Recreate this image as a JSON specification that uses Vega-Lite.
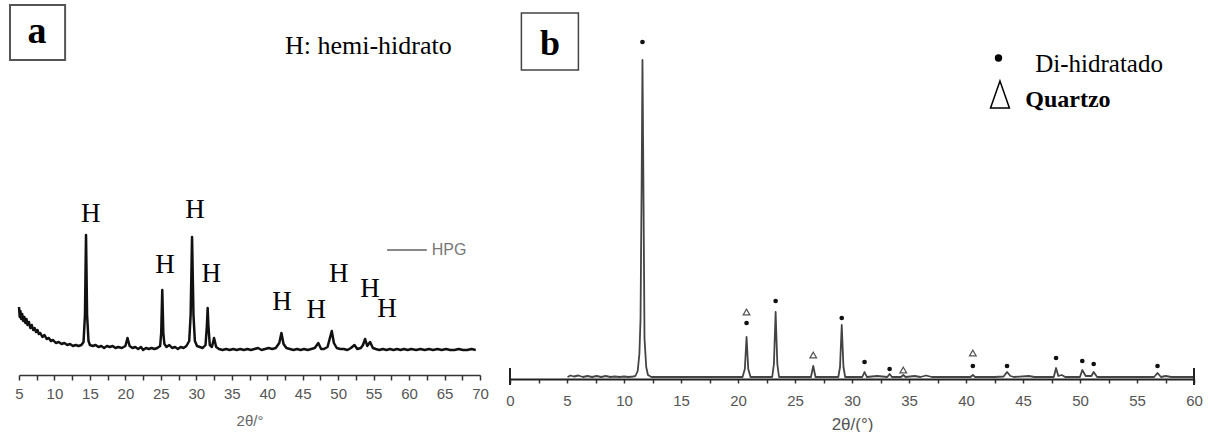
{
  "$schema": "https://vega.github.io/schema/vega-lite/v6.json",
  "background": "white",
  "padding": {"left": 8, "top": 0, "right": 0, "bottom": 0},
  "autosize": {"type": "pad"},
  "spacing": 30,
  "bounds": "flush",
  "config": {"view": {"stroke": null}},
  "datasets": {
    "a_trace": [
      {"two_theta": 5.0, "intensity": 68}, {"two_theta": 5.1, "intensity": 58}, {"two_theta": 5.2, "intensity": 64}, {"two_theta": 5.3, "intensity": 56},
      {"two_theta": 5.45, "intensity": 61}, {"two_theta": 5.6, "intensity": 54}, {"two_theta": 5.75, "intensity": 58}, {"two_theta": 5.9, "intensity": 52},
      {"two_theta": 6.05, "intensity": 56}, {"two_theta": 6.2, "intensity": 50}, {"two_theta": 6.4, "intensity": 53}, {"two_theta": 6.6, "intensity": 47},
      {"two_theta": 6.8, "intensity": 50}, {"two_theta": 7.0, "intensity": 45}, {"two_theta": 7.2, "intensity": 47}, {"two_theta": 7.4, "intensity": 43},
      {"two_theta": 7.6, "intensity": 45}, {"two_theta": 7.8, "intensity": 41}, {"two_theta": 8.0, "intensity": 42}, {"two_theta": 8.3, "intensity": 38},
      {"two_theta": 8.6, "intensity": 40}, {"two_theta": 8.9, "intensity": 36}, {"two_theta": 9.2, "intensity": 37}, {"two_theta": 9.5, "intensity": 34},
      {"two_theta": 9.8, "intensity": 35}, {"two_theta": 10.2, "intensity": 32}, {"two_theta": 10.6, "intensity": 33}, {"two_theta": 11.0, "intensity": 31},
      {"two_theta": 11.4, "intensity": 32}, {"two_theta": 11.8, "intensity": 30}, {"two_theta": 12.2, "intensity": 31}, {"two_theta": 12.6, "intensity": 29},
      {"two_theta": 13.0, "intensity": 30}, {"two_theta": 13.4, "intensity": 29}, {"two_theta": 13.8, "intensity": 30}, {"two_theta": 14.1, "intensity": 33},
      {"two_theta": 14.3, "intensity": 60}, {"two_theta": 14.45, "intensity": 140}, {"two_theta": 14.6, "intensity": 60}, {"two_theta": 14.8, "intensity": 34},
      {"two_theta": 15.0, "intensity": 30}, {"two_theta": 15.4, "intensity": 29}, {"two_theta": 15.8, "intensity": 30}, {"two_theta": 16.2, "intensity": 28},
      {"two_theta": 16.6, "intensity": 29}, {"two_theta": 17.0, "intensity": 27}, {"two_theta": 17.4, "intensity": 29}, {"two_theta": 17.8, "intensity": 28},
      {"two_theta": 18.2, "intensity": 29}, {"two_theta": 18.6, "intensity": 27}, {"two_theta": 19.0, "intensity": 28}, {"two_theta": 19.5, "intensity": 27},
      {"two_theta": 20.0, "intensity": 29}, {"two_theta": 20.3, "intensity": 37}, {"two_theta": 20.6, "intensity": 29}, {"two_theta": 21.0, "intensity": 27},
      {"two_theta": 21.4, "intensity": 28}, {"two_theta": 21.8, "intensity": 26}, {"two_theta": 22.2, "intensity": 28}, {"two_theta": 22.5, "intensity": 25},
      {"two_theta": 22.9, "intensity": 27}, {"two_theta": 23.3, "intensity": 26}, {"two_theta": 23.7, "intensity": 27}, {"two_theta": 24.1, "intensity": 26},
      {"two_theta": 24.5, "intensity": 27}, {"two_theta": 24.9, "intensity": 29}, {"two_theta": 25.05, "intensity": 42}, {"two_theta": 25.2, "intensity": 85},
      {"two_theta": 25.35, "intensity": 42}, {"two_theta": 25.5, "intensity": 31}, {"two_theta": 25.8, "intensity": 28}, {"two_theta": 26.2, "intensity": 30},
      {"two_theta": 26.6, "intensity": 27}, {"two_theta": 27.0, "intensity": 28}, {"two_theta": 27.4, "intensity": 26}, {"two_theta": 27.8, "intensity": 28},
      {"two_theta": 28.2, "intensity": 27}, {"two_theta": 28.6, "intensity": 29}, {"two_theta": 29.0, "intensity": 34}, {"two_theta": 29.2, "intensity": 60},
      {"two_theta": 29.4, "intensity": 138}, {"two_theta": 29.6, "intensity": 60}, {"two_theta": 29.8, "intensity": 34}, {"two_theta": 30.1, "intensity": 29},
      {"two_theta": 30.5, "intensity": 28}, {"two_theta": 30.9, "intensity": 27}, {"two_theta": 31.3, "intensity": 30}, {"two_theta": 31.5, "intensity": 50},
      {"two_theta": 31.6, "intensity": 67}, {"two_theta": 31.7, "intensity": 50}, {"two_theta": 31.9, "intensity": 30}, {"two_theta": 32.2, "intensity": 28},
      {"two_theta": 32.5, "intensity": 37}, {"two_theta": 32.8, "intensity": 28}, {"two_theta": 33.2, "intensity": 26}, {"two_theta": 33.7, "intensity": 25},
      {"two_theta": 34.2, "intensity": 26}, {"two_theta": 34.7, "intensity": 25}, {"two_theta": 35.2, "intensity": 26}, {"two_theta": 35.7, "intensity": 25},
      {"two_theta": 36.2, "intensity": 26}, {"two_theta": 36.7, "intensity": 25}, {"two_theta": 37.2, "intensity": 26}, {"two_theta": 37.7, "intensity": 25},
      {"two_theta": 38.2, "intensity": 26}, {"two_theta": 38.7, "intensity": 27}, {"two_theta": 39.2, "intensity": 25}, {"two_theta": 39.7, "intensity": 26},
      {"two_theta": 40.2, "intensity": 27}, {"two_theta": 40.7, "intensity": 26}, {"two_theta": 41.2, "intensity": 27}, {"two_theta": 41.7, "intensity": 32},
      {"two_theta": 42.0, "intensity": 42}, {"two_theta": 42.3, "intensity": 31}, {"two_theta": 42.7, "intensity": 27}, {"two_theta": 43.2, "intensity": 26},
      {"two_theta": 43.7, "intensity": 25}, {"two_theta": 44.2, "intensity": 26}, {"two_theta": 44.7, "intensity": 25}, {"two_theta": 45.2, "intensity": 26},
      {"two_theta": 45.7, "intensity": 25}, {"two_theta": 46.2, "intensity": 26}, {"two_theta": 46.7, "intensity": 27}, {"two_theta": 47.2, "intensity": 32},
      {"two_theta": 47.6, "intensity": 26}, {"two_theta": 48.0, "intensity": 26}, {"two_theta": 48.5, "intensity": 28}, {"two_theta": 48.8, "intensity": 36},
      {"two_theta": 49.1, "intensity": 44}, {"two_theta": 49.4, "intensity": 32}, {"two_theta": 49.8, "intensity": 27}, {"two_theta": 50.3, "intensity": 26},
      {"two_theta": 50.8, "intensity": 26}, {"two_theta": 51.3, "intensity": 25}, {"two_theta": 51.8, "intensity": 27}, {"two_theta": 52.3, "intensity": 30},
      {"two_theta": 52.7, "intensity": 26}, {"two_theta": 53.2, "intensity": 27}, {"two_theta": 53.5, "intensity": 30}, {"two_theta": 53.8, "intensity": 36},
      {"two_theta": 54.1, "intensity": 29}, {"two_theta": 54.5, "intensity": 33}, {"two_theta": 54.9, "intensity": 27}, {"two_theta": 55.3, "intensity": 26},
      {"two_theta": 55.8, "intensity": 25}, {"two_theta": 56.3, "intensity": 26}, {"two_theta": 56.8, "intensity": 25}, {"two_theta": 57.3, "intensity": 26},
      {"two_theta": 57.8, "intensity": 25}, {"two_theta": 58.3, "intensity": 26}, {"two_theta": 58.8, "intensity": 25}, {"two_theta": 59.3, "intensity": 26},
      {"two_theta": 59.8, "intensity": 25}, {"two_theta": 60.3, "intensity": 26}, {"two_theta": 61.0, "intensity": 25}, {"two_theta": 61.6, "intensity": 26},
      {"two_theta": 62.2, "intensity": 25}, {"two_theta": 62.8, "intensity": 26}, {"two_theta": 63.4, "intensity": 25}, {"two_theta": 64.0, "intensity": 26},
      {"two_theta": 64.6, "intensity": 25}, {"two_theta": 65.2, "intensity": 26}, {"two_theta": 65.8, "intensity": 25}, {"two_theta": 66.4, "intensity": 25},
      {"two_theta": 67.0, "intensity": 26}, {"two_theta": 67.6, "intensity": 25}, {"two_theta": 68.2, "intensity": 25}, {"two_theta": 68.8, "intensity": 26},
      {"two_theta": 69.4, "intensity": 25}
    ],
    "a_H": [
      {"two_theta": 15.1, "intensity": 153, "label": "H"},
      {"two_theta": 25.6, "intensity": 102, "label": "H"},
      {"two_theta": 29.8, "intensity": 157, "label": "H"},
      {"two_theta": 32.1, "intensity": 93, "label": "H"},
      {"two_theta": 42.1, "intensity": 65, "label": "H"},
      {"two_theta": 46.9, "intensity": 57, "label": "H"},
      {"two_theta": 50.1, "intensity": 93, "label": "H"},
      {"two_theta": 54.5, "intensity": 78, "label": "H"},
      {"two_theta": 56.9, "intensity": 58, "label": "H"}
    ],
    "b_trace": [
      {"two_theta": 5.05, "intensity": 2}, {"two_theta": 5.3, "intensity": 3.5}, {"two_theta": 5.6, "intensity": 2.5}, {"two_theta": 6.0, "intensity": 3.5},
      {"two_theta": 6.4, "intensity": 2}, {"two_theta": 6.8, "intensity": 3}, {"two_theta": 7.2, "intensity": 2}, {"two_theta": 7.6, "intensity": 3},
      {"two_theta": 8.0, "intensity": 2}, {"two_theta": 8.4, "intensity": 3}, {"two_theta": 8.8, "intensity": 2}, {"two_theta": 9.2, "intensity": 2.5},
      {"two_theta": 9.6, "intensity": 2}, {"two_theta": 10.0, "intensity": 2.5}, {"two_theta": 10.4, "intensity": 2}, {"two_theta": 10.8, "intensity": 2.5},
      {"two_theta": 11.0, "intensity": 3}, {"two_theta": 11.2, "intensity": 8}, {"two_theta": 11.35, "intensity": 25}, {"two_theta": 11.45, "intensity": 60},
      {"two_theta": 11.55, "intensity": 200}, {"two_theta": 11.62, "intensity": 319}, {"two_theta": 11.7, "intensity": 200}, {"two_theta": 11.8, "intensity": 40},
      {"two_theta": 11.95, "intensity": 12}, {"two_theta": 12.1, "intensity": 4}, {"two_theta": 12.4, "intensity": 2}, {"two_theta": 13.5, "intensity": 2},
      {"two_theta": 15.0, "intensity": 2}, {"two_theta": 17.0, "intensity": 2}, {"two_theta": 19.0, "intensity": 2}, {"two_theta": 20.4, "intensity": 2},
      {"two_theta": 20.6, "intensity": 10}, {"two_theta": 20.75, "intensity": 42}, {"two_theta": 20.9, "intensity": 10}, {"two_theta": 21.1, "intensity": 2},
      {"two_theta": 22.0, "intensity": 2}, {"two_theta": 23.0, "intensity": 2}, {"two_theta": 23.15, "intensity": 15}, {"two_theta": 23.3, "intensity": 67},
      {"two_theta": 23.45, "intensity": 15}, {"two_theta": 23.6, "intensity": 2}, {"two_theta": 25.0, "intensity": 2}, {"two_theta": 26.4, "intensity": 2},
      {"two_theta": 26.6, "intensity": 13}, {"two_theta": 26.8, "intensity": 2}, {"two_theta": 28.0, "intensity": 2}, {"two_theta": 28.8, "intensity": 2},
      {"two_theta": 28.95, "intensity": 12}, {"two_theta": 29.1, "intensity": 54}, {"two_theta": 29.25, "intensity": 12}, {"two_theta": 29.4, "intensity": 2},
      {"two_theta": 30.9, "intensity": 2}, {"two_theta": 31.1, "intensity": 7}, {"two_theta": 31.3, "intensity": 2}, {"two_theta": 32.2, "intensity": 3},
      {"two_theta": 33.1, "intensity": 2}, {"two_theta": 33.3, "intensity": 5}, {"two_theta": 33.5, "intensity": 2}, {"two_theta": 34.3, "intensity": 2},
      {"two_theta": 34.5, "intensity": 4}, {"two_theta": 34.7, "intensity": 2}, {"two_theta": 35.5, "intensity": 3}, {"two_theta": 36.0, "intensity": 2},
      {"two_theta": 36.5, "intensity": 3.5}, {"two_theta": 37.0, "intensity": 2}, {"two_theta": 38.5, "intensity": 2}, {"two_theta": 40.4, "intensity": 2},
      {"two_theta": 40.6, "intensity": 4}, {"two_theta": 40.8, "intensity": 2}, {"two_theta": 42.5, "intensity": 2}, {"two_theta": 43.3, "intensity": 2.5},
      {"two_theta": 43.6, "intensity": 7}, {"two_theta": 43.9, "intensity": 3}, {"two_theta": 44.2, "intensity": 2}, {"two_theta": 45.5, "intensity": 3},
      {"two_theta": 46.0, "intensity": 2}, {"two_theta": 47.7, "intensity": 2}, {"two_theta": 47.9, "intensity": 11}, {"two_theta": 48.1, "intensity": 3},
      {"two_theta": 48.4, "intensity": 4}, {"two_theta": 48.7, "intensity": 2}, {"two_theta": 50.0, "intensity": 2}, {"two_theta": 50.2, "intensity": 9},
      {"two_theta": 50.5, "intensity": 3}, {"two_theta": 51.0, "intensity": 3}, {"two_theta": 51.2, "intensity": 7}, {"two_theta": 51.5, "intensity": 2},
      {"two_theta": 53.0, "intensity": 2}, {"two_theta": 55.0, "intensity": 2}, {"two_theta": 56.5, "intensity": 2}, {"two_theta": 56.8, "intensity": 6},
      {"two_theta": 57.1, "intensity": 2}, {"two_theta": 57.5, "intensity": 3}, {"two_theta": 58.0, "intensity": 2}, {"two_theta": 60.0, "intensity": 2}
    ],
    "b_dots": [
      {"two_theta": 11.62, "intensity": 337}, {"two_theta": 20.75, "intensity": 56}, {"two_theta": 23.3, "intensity": 78},
      {"two_theta": 29.1, "intensity": 61}, {"two_theta": 31.1, "intensity": 17}, {"two_theta": 33.3, "intensity": 10},
      {"two_theta": 40.6, "intensity": 13}, {"two_theta": 43.6, "intensity": 13}, {"two_theta": 47.9, "intensity": 21},
      {"two_theta": 50.2, "intensity": 18}, {"two_theta": 51.2, "intensity": 15}, {"two_theta": 56.8, "intensity": 13}
    ],
    "b_tri": [
      {"two_theta": 20.75, "intensity": 67}, {"two_theta": 26.6, "intensity": 24}, {"two_theta": 34.5, "intensity": 9}, {"two_theta": 40.6, "intensity": 26}
    ]
  },
  "hconcat": [
    {
      "width": 461,
      "height": 375,
      "encoding": {
        "x": {
          "field": "two_theta", "type": "quantitative",
          "scale": {"domain": [5, 70], "nice": false, "zero": false},
          "axis": {
            "title": "2θ/°",
            "values": [5, 7.5, 10, 12.5, 15, 17.5, 20, 22.5, 25, 27.5, 30, 32.5, 35, 37.5, 40, 42.5, 45, 47.5, 50, 52.5, 55, 57.5, 60, 62.5, 65, 67.5, 70],
            "labelExpr": "datum.value % 5 === 0 ? datum.value : ''",
            "labelOverlap": false,
            "labelFlush": false,
            "labelBound": false,
            "grid": false,
            "domainColor": "#333333", "domainWidth": 1.5,
            "tickColor": "#333333", "tickWidth": 1.5, "tickSize": 5,
            "labelFont": "Liberation Sans", "labelFontSize": 15, "labelColor": "#555555", "labelPadding": 6,
            "titleFont": "Liberation Sans", "titleFontSize": 15, "titleColor": "#666666", "titleFontWeight": "normal", "titlePadding": 12
          }
        },
        "y": {"field": "intensity", "type": "quantitative", "scale": {"domain": [0, 375], "nice": false}, "axis": null}
      },
      "layer": [
        {
          "data": {"name": "a_trace"},
          "mark": {"type": "line", "color": "#111111", "strokeWidth": 2.5, "strokeJoin": "round"}
        },
        {
          "data": {"name": "a_H"},
          "mark": {"type": "text", "font": "Liberation Serif", "fontSize": 27, "baseline": "alphabetic", "align": "center", "color": "#000000"},
          "encoding": {"text": {"field": "label"}}
        },
        {
          "data": {"values": [{"two_theta": 3.73, "two_theta_end": 11.5, "intensity": 370, "intensity_end": 315}]},
          "mark": {"type": "rect", "fill": null, "stroke": "#555555", "strokeWidth": 2},
          "encoding": {
            "x2": {"field": "two_theta_end"},
            "y2": {"field": "intensity_end"}
          }
        },
        {
          "data": {"values": [{"two_theta": 7.55, "intensity": 332, "label": "a"}]},
          "mark": {"type": "text", "font": "Liberation Serif", "fontSize": 38, "fontWeight": "bold", "baseline": "alphabetic", "align": "center", "color": "#000000"},
          "encoding": {"text": {"field": "label"}}
        },
        {
          "data": {"values": [{"two_theta": 42.5, "intensity": 321, "label": "H: hemi-hidrato"}]},
          "mark": {"type": "text", "font": "Liberation Serif", "fontSize": 26, "baseline": "alphabetic", "align": "left", "color": "#000000"},
          "encoding": {"text": {"field": "label"}}
        },
        {
          "data": {"values": [{"two_theta": 56.9, "two_theta_end": 62.5, "intensity": 125}]},
          "mark": {"type": "rule", "color": "#888888", "strokeWidth": 2},
          "encoding": {"x2": {"field": "two_theta_end"}}
        },
        {
          "data": {"values": [{"two_theta": 63.2, "intensity": 125, "label": "HPG"}]},
          "mark": {"type": "text", "font": "Liberation Sans", "fontSize": 16, "baseline": "middle", "align": "left", "color": "#777777"},
          "encoding": {"text": {"field": "label"}}
        }
      ]
    },
    {
      "width": 684,
      "height": 379,
      "encoding": {
        "x": {
          "field": "two_theta", "type": "quantitative",
          "scale": {"domain": [0, 60], "nice": false, "zero": false},
          "axis": {
            "title": "2θ/(°)",
            "values": [0, 2.5, 5, 7.5, 10, 12.5, 15, 17.5, 20, 22.5, 25, 27.5, 30, 32.5, 35, 37.5, 40, 42.5, 45, 47.5, 50, 52.5, 55, 57.5, 60],
            "labelExpr": "datum.value % 5 === 0 ? datum.value : ''",
            "labelOverlap": false,
            "labelFlush": false,
            "labelBound": false,
            "grid": false,
            "domainColor": "#222222", "domainWidth": 2,
            "tickColor": "#333333", "tickWidth": 1.5, "tickSize": 4,
            "labelFont": "Liberation Sans", "labelFontSize": 15, "labelColor": "#555555", "labelPadding": 10,
            "titleFont": "Liberation Sans", "titleFontSize": 17, "titleColor": "#555555", "titleFontWeight": "normal", "titlePadding": 8
          }
        },
        "y": {"field": "intensity", "type": "quantitative", "scale": {"domain": [0, 379], "nice": false}, "axis": null}
      },
      "layer": [
        {
          "data": {"name": "b_trace"},
          "mark": {"type": "line", "color": "#444444", "strokeWidth": 1.8, "strokeJoin": "round"}
        },
        {
          "data": {"values": [{"two_theta": 0, "intensity": 11, "intensity_end": -6}, {"two_theta": 60, "intensity": 11, "intensity_end": -6}]},
          "mark": {"type": "rule", "color": "#222222", "strokeWidth": 2},
          "encoding": {"y2": {"field": "intensity_end"}}
        },
        {
          "data": {"name": "b_dots"},
          "mark": {"type": "point", "shape": "circle", "filled": true, "color": "#111111", "size": 22, "opacity": 1}
        },
        {
          "data": {"name": "b_tri"},
          "mark": {"type": "point", "shape": "triangle-up", "filled": false, "color": "#555555", "size": 45, "strokeWidth": 1.2, "opacity": 1}
        },
        {
          "data": {"values": [{"two_theta": 1.0, "two_theta_end": 6.0, "intensity": 366, "intensity_end": 309}]},
          "mark": {"type": "rect", "fill": null, "stroke": "#444444", "strokeWidth": 1.5},
          "encoding": {
            "x2": {"field": "two_theta_end"},
            "y2": {"field": "intensity_end"}
          }
        },
        {
          "data": {"values": [{"two_theta": 3.5, "intensity": 324, "label": "b"}]},
          "mark": {"type": "text", "font": "Liberation Serif", "fontSize": 36, "fontWeight": "bold", "baseline": "alphabetic", "align": "center", "color": "#000000"},
          "encoding": {"text": {"field": "label"}}
        },
        {
          "data": {"values": [{"two_theta": 42.85, "intensity": 321}]},
          "mark": {"type": "point", "shape": "circle", "filled": true, "color": "#000000", "size": 55, "opacity": 1}
        },
        {
          "data": {"values": [{"two_theta": 42.98, "intensity": 284.5}]},
          "mark": {"type": "point", "shape": "M0,-1L-0.7,1L0.7,1Z", "filled": false, "color": "#000000", "size": 729, "strokeWidth": 1.5, "opacity": 1}
        },
        {
          "data": {"values": [{"two_theta": 46.07, "intensity": 307.3, "label": "Di-hidratado"}]},
          "mark": {"type": "text", "font": "Liberation Serif", "fontSize": 25, "baseline": "alphabetic", "align": "left", "color": "#000000"},
          "encoding": {"text": {"field": "label"}}
        },
        {
          "data": {"values": [{"two_theta": 45.2, "intensity": 272, "label": "Quartzo"}]},
          "mark": {"type": "text", "font": "Liberation Serif", "fontSize": 24, "fontWeight": "bold", "baseline": "alphabetic", "align": "left", "color": "#000000"},
          "encoding": {"text": {"field": "label"}}
        }
      ]
    }
  ]
}
